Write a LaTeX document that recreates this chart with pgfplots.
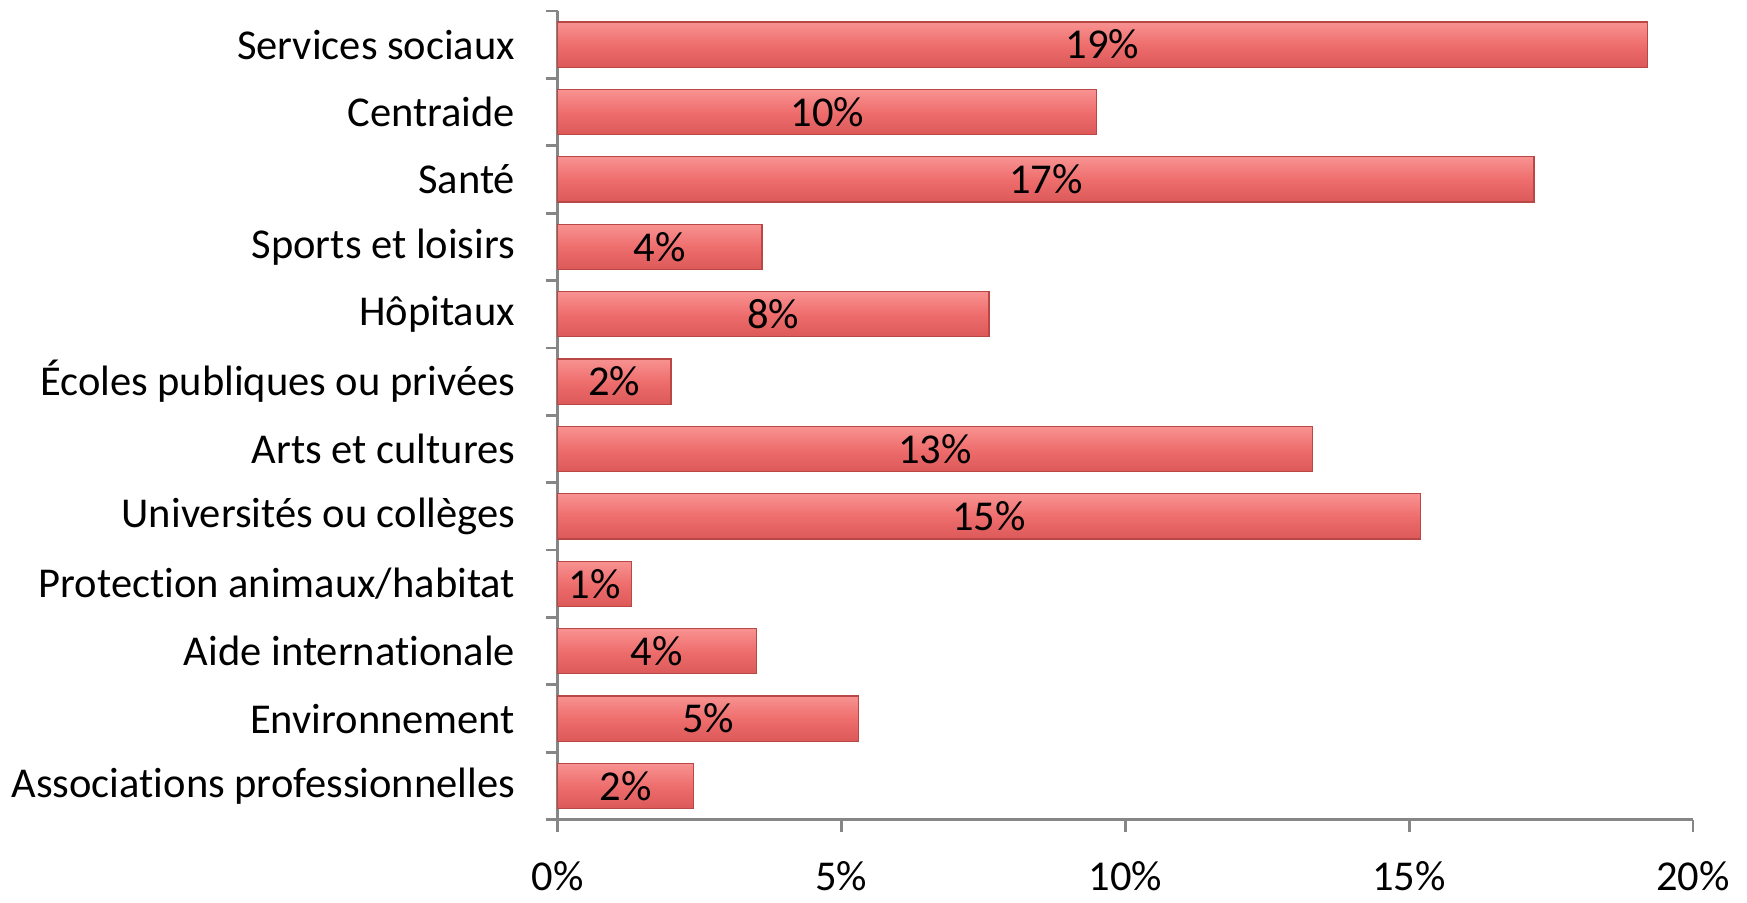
\documentclass[border=0pt]{standalone}
\usepackage{pgfplots}
\pgfplotsset{compat=1.18}
\usepackage{pgfplotstable}
\usepackage{fontspec}
\setmainfont{Carlito}[Ligatures=NoCommon]

\definecolor{axisgray}{HTML}{868686}
\definecolor{baredge}{HTML}{B84745}
\pgfdeclareverticalshading{barshade}{100bp}{%
  color(0bp)=({rgb,255:red,184;green,68;blue,66});
  color(12bp)=({rgb,255:red,210;green,78;blue,77});
  color(50bp)=({rgb,255:red,238;green,110;blue,109});
  color(76bp)=({rgb,255:red,248;green,148;blue,147});
  color(85bp)=({rgb,255:red,253;green,222;blue,221});
  color(92bp)=({rgb,255:red,251;green,206;blue,205});
  color(100bp)=({rgb,255:red,232;green,134;blue,132})}

% shares, top category first
\pgfplotstableread{
idx v lbl
0 19.2 19\%
1 9.5 10\%
2 17.2 17\%
3 3.6 4\%
4 7.6 8\%
5 2.0 2\%
6 13.3 13\%
7 15.2 15\%
8 1.3 1\%
9 3.5 4\%
10 5.3 5\%
11 2.4 2\%
}\sharedata

\begin{document}
\begin{tikzpicture}
\begin{axis}[
    scale only axis,
    width=11.36cm, height=8.09cm,
    at={(0,0)}, anchor=south west,
    xbar, bar width=0.67, bar shift=0pt,
    y dir=reverse,
    xmin=0, xmax=20, ymin=-0.5, ymax=11.5,
    axis x line*=bottom, axis y line*=left,
    axis line style={axisgray, line width=0.8pt, -},
    xtick={0,5,10,15,20},
    xticklabel={\pgfmathprintnumber{\tick}\%},
    xticklabel style={yshift=-0.17cm},
    ytick={0,...,11},
    yticklabels={Services sociaux, Centraide, Santé, Sports et loisirs, Hôpitaux,
      Écoles publiques ou privées, Arts et cultures, Universités ou collèges,
      Protection animaux/habitat, Aide internationale, Environnement,
      Associations professionnelles},
    yticklabel style={xshift=-0.18cm},
    minor ytick={-0.5,0.5,...,11.5},
    major y tick style={draw=none},
    minor y tick style={axisgray, line width=0.8pt},
    major x tick style={axisgray, line width=0.8pt},
    tick align=outside,
    major tick length=0.12cm, minor tick length=0.12cm,
    tick label style={font=\fontsize{12.1}{14}\selectfont},
    /pgf/number format/assume math mode=true,
    clip=false,
]
\pgfplotsinvokeforeach{0,...,11}{
  \addplot[draw=baredge, line width=0.35pt, shading=barshade, restrict y to domain=#1:#1]
      table[x=v, y=idx] {\sharedata};
}
\addplot[draw=none, mark=none, fill=none, bar width=0pt,
    nodes near coords, point meta=explicit symbolic,
    every node near coord/.style={anchor=center, font=\fontsize{12.1}{14}\selectfont, black}]
    table[x expr=\thisrow{v}/2, y=idx, meta=lbl] {\sharedata};
\end{axis}
\path (-5.57,-0.71) (11.90,8.20);
\end{tikzpicture}
\end{document}
